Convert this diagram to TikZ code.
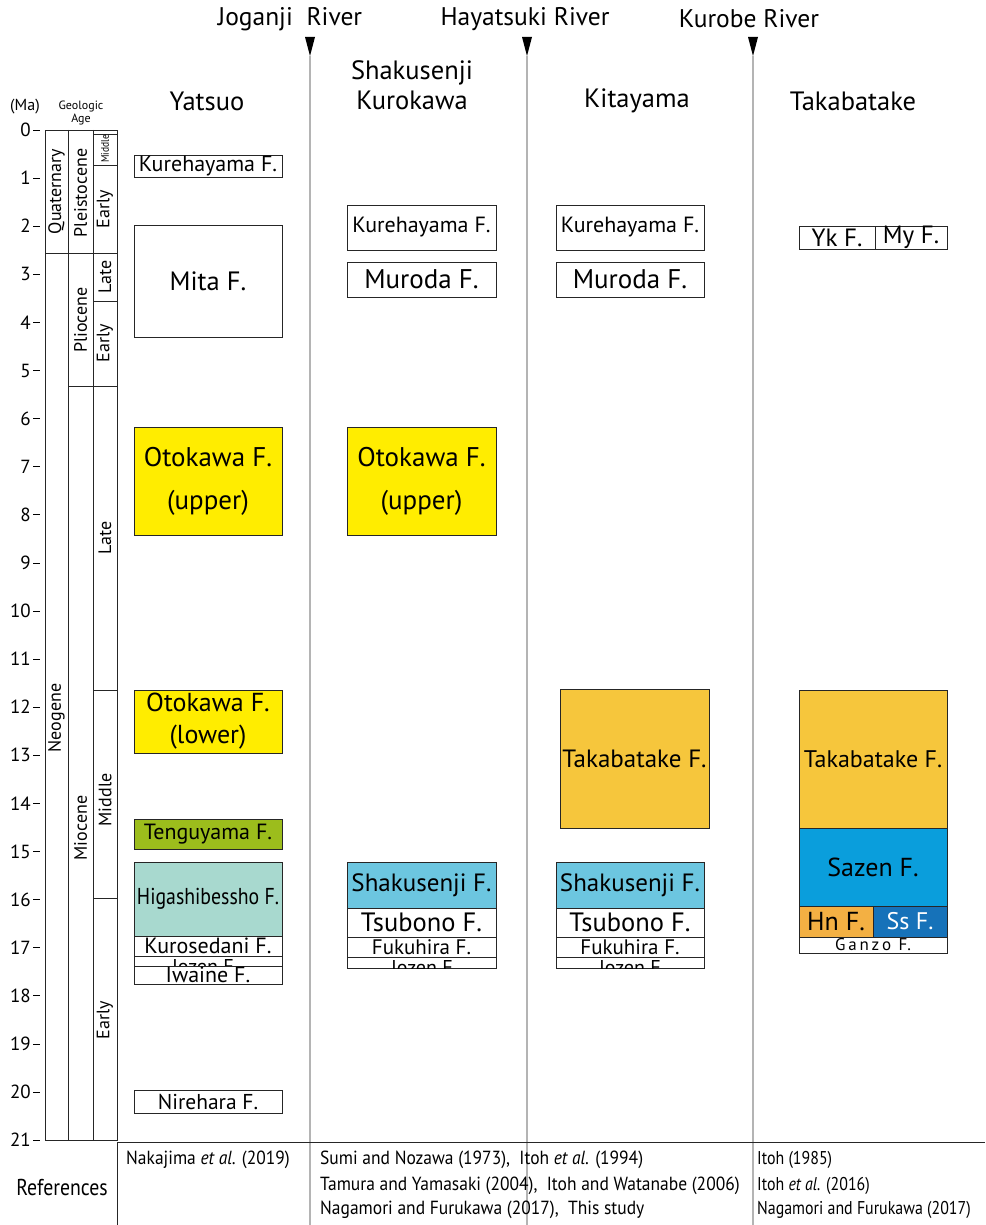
\documentclass[tikz,border=0pt]{standalone}
\usepackage{fontspec}
\setmainfont{PT Sans}
\newfontfamily\condf{PT Sans}[FakeStretch=0.86]
\newfontfamily\reff{PT Sans}[FakeStretch=0.92]
\newfontfamily\refn{PT Sans}[FakeStretch=0.86]
\newcommand\setfs[1]{\fontsize{#1}{#1}\selectfont}
\definecolor{oyellow}{HTML}{FFED00}
\definecolor{tgreen}{HTML}{9CBD1C}
\definecolor{hteal}{HTML}{A8D9CF}
\definecolor{sblue}{HTML}{6CC6E0}
\definecolor{torange}{HTML}{F6C63C}
\definecolor{zblue}{HTML}{0A9EDC}
\definecolor{ssblue}{HTML}{1672B9}
\definecolor{hnorange}{HTML}{F3B043}
\definecolor{rivergray}{HTML}{B4B4B4}
\begin{document}
\begin{tikzpicture}[x=1pt,y=-1pt,
  fm/.style={draw=black!85, line width=0.8pt, inner sep=0pt, align=center},
  col/.style={draw=black!85, line width=0.8pt},
  rot/.style={rotate=90, inner sep=0pt, font=\setfs{18}},
  river/.style={draw=rivergray, line width=2pt},
  tri/.style={fill=black},
  refs/.style={anchor=west, inner sep=0pt, font=\reff\setfs{19}},
  refsn/.style={anchor=west, inner sep=0pt, font=\refn\setfs{18.5}}]
\useasboundingbox (0,0) rectangle (985,1225);

% ---------- rivers ----------
\foreach \rx/\nm in {310/jog,527/hay,753/kur}{
  \coordinate (\nm top) at (\rx,56);
  \coordinate (\nm bot) at (\rx,1225);
  \draw[river] (\nm top) -- (\nm bot);
  \fill[tri] (\rx-5,37) -- (\rx+5,37) -- (\rx,56) -- cycle;
}
\node[font=\setfs{25.5}] (rjog) at (290,19) {Joganji\ \ River};
\node[font=\setfs{25.5}] (rhay) at (525,19) {Hayatsuki River};
\node[font=\setfs{25.5}] (rkur) at (749,19) {Kurobe River};

% ---------- headers ----------
\node[font=\setfs{26.5}] (hyat) at (207,101) {Yatsuo};
\node[align=center, font=\fontsize{26.5}{30}\selectfont] (hsha) at (412,85) {Shakusenji\\Kurokawa};
\node[font=\setfs{26.5}] (hkit) at (637,101) {Kitayama};
\node[font=\setfs{26.5}] (htak) at (853,101) {Takabatake};

% ---------- age axis ----------
\node[font=\setfs{16}] (ma) at (25,107) {(Ma)};
\node[align=center, font=\fontsize{12}{11}\selectfont] (gage) at (81,113) {Geologic\\Age};
\foreach \t in {0,...,21}{
  \pgfmathsetmacro\yy{130+48.1*\t}
  \draw[line width=0.8pt] (33,\yy) -- (40,\yy);
  \node[anchor=east, inner sep=1pt, font=\setfs{19}] (tick\t) at (32,\yy) {\t};
}

% ---------- geologic column ----------
\draw[col] (45,130) rectangle (117,1140);
\draw[col] (68,130) -- (68,1140);
\draw[col] (93,130) -- (93,1140);
\draw[col] (93,134) -- (117,134);
\draw[col] (93,165) -- (117,165);
\draw[col] (45,253) -- (117,253);
\draw[col] (93,301) -- (117,301);
\draw[col] (68,386) -- (117,386);
\draw[col] (93,690) -- (117,690);
\draw[col] (93,898) -- (117,898);
\node[rot] (quat) at (56.5,191.5) {Quaternary};
\node[rot] (plei) at (80.5,193) {Pleistocene};
\node[rot, font=\condf\setfs{11}] (pmid) at (105,149) {Middle};
\node[rot] (pear) at (105,209) {Early};
\node[rot] (plat) at (105,277) {Late};
\node[rot] (plio) at (80.5,320) {Pliocene};
\node[rot] (pear2) at (105,343) {Early};
\node[rot] (neog) at (56.5,718) {Neogene};
\node[rot] (mioc) at (80.5,828) {Miocene};
\node[rot] (mlat) at (105,538) {Late};
\node[rot] (mmid) at (105,800) {Middle};
\node[rot] (mear) at (105,1020) {Early};

% ---------- Yatsuo ----------
\node[fm, minimum width=148, minimum height=22, font=\setfs{22}] (kure1) at (208,166) {\raisebox{-2pt}{Kurehayama F.}};
\node[fm, minimum width=148, minimum height=112, font=\setfs{26.5}] (mita) at (208,281) {Mita F.};
\node[fm, fill=oyellow, minimum width=148, minimum height=108, font=\fontsize{27}{43}\selectfont] (otoU1) at (208,481) {Otokawa F.\\(upper)};
\node[fm, fill=oyellow, minimum width=148, minimum height=63, font=\fontsize{26}{32}\selectfont] (otoL) at (208,721.5) {Otokawa F.\\(lower)};
\node[fm, fill=tgreen, minimum width=148, minimum height=30, font=\setfs{22}] (teng) at (208,834) {Tenguyama F.};
\node[fm, fill=hteal, minimum width=148, minimum height=74, font=\condf\setfs{23}] (higa) at (208,899) {Higashibessho F.};
\node[fm, minimum width=148, minimum height=20, font=\setfs{22}] (kuro) at (208,946) {Kurosedani F.};
\node[fm, minimum width=148, minimum height=10] (ioz1) at (208,961) {};
\begin{scope}
  \clip (134,956) rectangle (282,966);
  \node[anchor=base, inner sep=0pt, font=\setfs{20}] (ioz1t) at (205,973) {Iozen F.};
\end{scope}
\node[fm, minimum width=148, minimum height=18, font=\setfs{22}] (iwai) at (208,975) {Iwaine F.};
\node[fm, minimum width=148, minimum height=23, font=\setfs{21.5}] (nire) at (208,1101.5) {Nirehara F.};

% ---------- Shakusenji Kurokawa ----------
\node[fm, minimum width=149, minimum height=45, font=\setfs{22}] (kure2) at (421.5,227.5) {Kurehayama F.};
\node[fm, minimum width=149, minimum height=35, font=\setfs{27}] (muro2) at (421.5,279.5) {Muroda F.};
\node[fm, fill=oyellow, minimum width=149, minimum height=108, font=\fontsize{27}{43}\selectfont] (otoU2) at (421.5,481) {Otokawa F.\\(upper)};
\node[fm, fill=sblue, minimum width=149, minimum height=46, font=\setfs{25}] (shak2) at (421.5,885) {Shakusenji F.};
\node[fm, minimum width=149, minimum height=29, font=\setfs{26.5}] (tsub2) at (421.5,922.5) {Tsubono F.};
\node[fm, minimum width=149, minimum height=20, font=\setfs{21}] (fuku2) at (421.5,947) {Fukuhira F.};
\node[fm, minimum width=149, minimum height=11] (ioz2) at (421.5,962.5) {};
\begin{scope}
  \clip (347,957) rectangle (496,968);
  \node[anchor=base, inner sep=0pt, font=\setfs{20}] (ioz2t) at (424,974) {Iozen F.};
\end{scope}

% ---------- Kitayama ----------
\node[fm, minimum width=148, minimum height=45, font=\setfs{22}] (kure3) at (630,227.5) {Kurehayama F.};
\node[fm, minimum width=148, minimum height=35, font=\setfs{27}] (muro3) at (630,279.5) {Muroda F.};
\node[fm, fill=torange, minimum width=149, minimum height=139, font=\setfs{25}] (taka3) at (634.5,758.5) {Takabatake F.};
\node[fm, fill=sblue, minimum width=148, minimum height=46, font=\setfs{25}] (shak3) at (630,885) {Shakusenji F.};
\node[fm, minimum width=148, minimum height=29, font=\setfs{26.5}] (tsub3) at (630,922.5) {Tsubono F.};
\node[fm, minimum width=148, minimum height=20, font=\setfs{21}] (fuku3) at (630,947) {Fukuhira F.};
\node[fm, minimum width=148, minimum height=11] (ioz3) at (630,962.5) {};
\begin{scope}
  \clip (556,957) rectangle (704,968);
  \node[anchor=base, inner sep=0pt, font=\setfs{20}] (ioz3t) at (632,974) {Iozen F.};
\end{scope}

% ---------- Takabatake ----------
\node[fm, minimum width=76, minimum height=23, font=\setfs{25}] (yk) at (837,237.5) {Yk F.};
\node[fm, minimum width=72, minimum height=23, font=\setfs{25}] (my) at (911,237.5) {My F.};
\node[fm, fill=torange, minimum width=148, minimum height=138, font=\setfs{24}] (taka4) at (873,759) {Takabatake F.};
\node[fm, fill=zblue, minimum width=148, minimum height=78, font=\setfs{26}] (saze) at (873,867) {Sazen F.};
\node[fm, fill=hnorange, minimum width=74, minimum height=31, font=\setfs{26}] (hn) at (836,921.5) {Hn F.};
\node[fm, fill=ssblue, text=white, minimum width=74, minimum height=31, font=\setfs{24}] (ss) at (910,921.5) {Ss F.};
\node[fm, minimum width=148, minimum height=16, font=\setfs{17}] (ganz) at (873,945) {G\,a\,n\,z\,o\, F.};

% ---------- references ----------
\draw[col] (117,1142) -- (985,1142);
\draw[col] (117,1142) -- (117,1225);
\node[font=\condf\setfs{23}] (refl) at (62,1187) {References};
\node[refs] (ref1) at (126,1160) {Nakajima \textit{et al.} (2019)};
\node[refs] (ref2a) at (320,1160) {Sumi and Nozawa (1973),\ \ Itoh \textit{et al.} (1994)};
\node[refs] (ref2b) at (320,1186) {Tamura and Yamasaki (2004),\ \ Itoh and Watanabe (2006)};
\node[refs] (ref2c) at (320,1210) {Nagamori and Furukawa (2017),\ \ This study};
\node[refsn] (ref3a) at (757,1160) {Itoh (1985)};
\node[refsn] (ref3b) at (757,1186) {Itoh \textit{et al.} (2016)};
\node[refsn] (ref3c) at (757,1210) {Nagamori and Furukawa (2017)};
\end{tikzpicture}
\end{document}
